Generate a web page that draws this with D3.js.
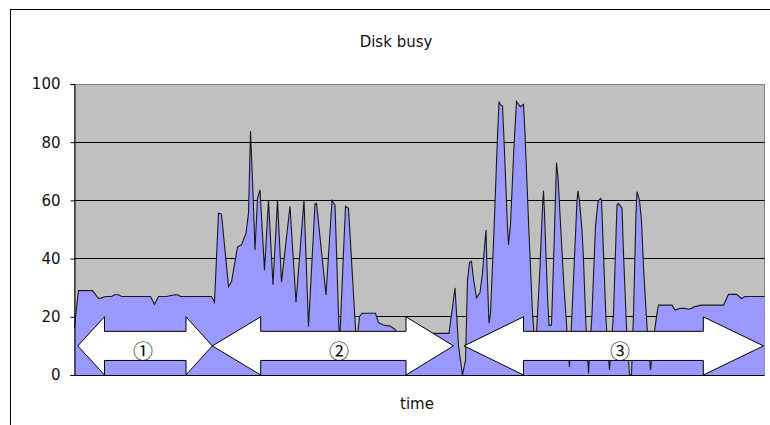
<!DOCTYPE html>
<html>
<head>
<meta charset="utf-8">
<script src="https://cdn.jsdelivr.net/npm/d3@7"></script>
<style>
  html, body { margin: 0; padding: 0; background: #fff; }
  svg { display: block; }
  text { font-family: "DejaVu Sans", sans-serif; fill: #111; }
</style>
</head>
<body>
<script>
// Sample times (arbitrary units from start of the run) and disk busy %
const sampleTime = [
  0, 1, 4, 18, 24, 27, 31, 37, 40, 44, 47, 76, 80, 84, 92, 100, 104, 106, 137, 140,
  144, 147, 149.5, 154, 157, 163, 167, 171.5, 174, 176, 178, 180.5, 183, 185.5, 190, 194, 198.5, 203, 207, 215.5,
  221.5, 229.5, 234, 240.5, 242, 251.5, 257.5, 260.5, 265, 271, 274, 282, 285, 287.5, 301, 304, 309, 315.5, 320, 323.5,
  374.5, 377.5, 380.5, 384, 388, 391, 393, 395, 397, 399, 402, 405.5, 408, 410.5, 411.5, 412.5, 414.5, 416, 419.5, 423,
  424.5, 426, 428, 429.5, 433, 434, 436, 439.5, 442, 444.5, 446, 449, 450.5, 454.5, 458, 461, 465.5, 468, 469, 470,
  473, 474.5, 477, 479.5, 482, 483.5, 486, 489.5, 492.5, 495, 497.5, 502.5, 503.5, 505, 507.5, 509, 511.5, 514, 517.5, 521,
  523.5, 526, 527, 529, 531.5, 535, 539, 542.5, 544, 547.5, 549, 552, 555, 557, 559, 561.5, 562.5, 565, 567, 569,
  572.5, 576, 580, 582.5, 584, 597.5, 600.5, 605.5, 610.5, 614, 617, 620.5, 627, 649, 654, 662, 667, 670.5, 690
];
const diskBusy = [
  16, 20, 29, 29, 26.3, 26.5, 27, 27, 27.6, 27.6, 27, 27, 24.3, 27, 27, 27.6, 27.5, 27, 27, 25,
  55.6, 55.3, 46.4, 30.4, 32, 44, 44.7, 48.7, 55.6, 83.8, 67, 43, 60.7, 63.6, 36, 60, 31, 60, 32, 58,
  25, 60, 16.6, 58.8, 59, 27.5, 60, 58.4, 10, 58, 57.3, 10, 20, 21.2, 21.2, 18, 17.2, 16.8, 15.8, 14.3,
  14.3, 22, 30, 10, 0, 5, 32.6, 38.6, 39, 33, 26.5, 28.3, 35, 46, 49.8, 37, 17.8, 21.2, 49.8, 82,
  94, 92.8, 92.5, 80.8, 51, 44.7, 52, 78.5, 94, 92.8, 92.2, 93, 83, 48.7, 21.2, 8, 37, 57.8, 63.3, 55.6,
  27, 17, 17.2, 44, 73, 68, 52, 30, 15, 2.8, 21, 60, 63.3, 59.6, 49.8, 39.5, 16.6, 0.5, 21, 51,
  59.6, 60.7, 60.2, 41.8, 19, 1.7, 21, 58.4, 59, 57.3, 41.8, 16.6, 0, 0, 21, 55.6, 63, 60, 53, 37,
  16.6, 1.7, 15, 21.2, 24, 24, 22.3, 22.9, 22.9, 22.6, 22.9, 23.5, 24, 24, 27.7, 27.7, 26.3, 27, 27
];

const timeRange = [0, 690];
const yTicks = [0, 20, 40, 60, 80, 100];

// Phases of the run, drawn as double-headed arrows along the bottom
const phaseNames = ["\u2460", "\u2461", "\u2462"];
const phaseTipStart = [3.3, 137.8, 389.5];
const phaseHeadStart = [30, 186.2, 449];
const phaseHeadEnd = [111.5, 331.5, 628.8];
const phaseTipEnd = [137.8, 379, 689];
const phaseLabelTime = [68.5, 264.5, 545.5];
const arrowHeadSpan = [0, 20];
const arrowShaftSpan = [5, 15];
const arrowMid = 10;
const phaseLabelLevel = 8.3;

const chartTitle = "Disk busy";
const xAxisTitle = "time";

const W = 770, H = 425;
const plot = { left: 74.5, right: 764.5, top: 84, bottom: 375 };

const svg = d3.select("body").append("svg")
  .attr("width", W).attr("height", H);

// outer chart frame
svg.append("rect")
  .attr("x", 10.5).attr("y", 9.5)
  .attr("width", 900).attr("height", 600)
  .attr("fill", "#fff").attr("stroke", "#000").attr("stroke-width", 1);

const x = d3.scaleLinear().domain(timeRange).range([plot.left, plot.right]);
const y = d3.scaleLinear().domain([0, 100]).range([plot.bottom, plot.top]);

// plot background
svg.append("rect")
  .attr("x", plot.left).attr("y", plot.top + 0.5)
  .attr("width", plot.right - plot.left).attr("height", plot.bottom - plot.top - 0.5)
  .attr("fill", "#c0c0c0").attr("stroke", "#808080").attr("stroke-width", 1);

// horizontal gridlines
svg.append("g").selectAll("line")
  .data(yTicks.filter(d => d > 0 && d < 100))
  .join("line")
  .attr("x1", plot.left).attr("x2", plot.right)
  .attr("y1", d => Math.floor(y(d)) + 0.5).attr("y2", d => Math.floor(y(d)) + 0.5)
  .attr("stroke", "#000").attr("stroke-width", 1);

const series = sampleTime.map((t, i) => ({ t, v: diskBusy[i] }));

const area = d3.area()
  .x(d => x(d.t))
  .y0(y(0))
  .y1(d => y(d.v));

svg.append("path")
  .datum(series)
  .attr("d", area)
  .attr("fill", "#9999ff");

const line = d3.line()
  .x(d => x(d.t))
  .y(d => y(d.v));

svg.append("path")
  .datum(series)
  .attr("d", line)
  .attr("fill", "none")
  .attr("stroke", "#1a1a1a")
  .attr("stroke-width", 1.1)
  .attr("stroke-linejoin", "miter");

// phase arrows
const arrowPts = i => [
  [phaseTipStart[i], arrowMid],
  [phaseHeadStart[i], arrowHeadSpan[1]],
  [phaseHeadStart[i], arrowShaftSpan[1]],
  [phaseHeadEnd[i], arrowShaftSpan[1]],
  [phaseHeadEnd[i], arrowHeadSpan[1]],
  [phaseTipEnd[i], arrowMid],
  [phaseHeadEnd[i], arrowHeadSpan[0]],
  [phaseHeadEnd[i], arrowShaftSpan[0]],
  [phaseHeadStart[i], arrowShaftSpan[0]],
  [phaseHeadStart[i], arrowHeadSpan[0]]
].map(([t, v]) => [x(t), y(v)]);

svg.append("g").selectAll("path")
  .data(phaseNames.map((n, i) => i))
  .join("path")
  .attr("d", i => "M" + arrowPts(i).map(p => p.join(",")).join("L") + "Z")
  .attr("fill", "#fff")
  .attr("stroke", "#000")
  .attr("stroke-width", 1)
  .attr("stroke-linejoin", "miter");

svg.append("g").selectAll("text")
  .data(phaseNames)
  .join("text")
  .attr("x", (d, i) => x(phaseLabelTime[i]))
  .attr("y", y(phaseLabelLevel))
  .attr("text-anchor", "middle")
  .attr("dominant-baseline", "central")
  .style("font-family", "'Noto Sans CJK JP', sans-serif")
  .style("font-size", "20px")
  .style("font-weight", "400")
  .attr("fill", "#000")
  .text(d => d);

// y axis
const yAxis = d3.axisLeft(y)
  .tickValues(yTicks)
  .tickSize(4)
  .tickPadding(10)
  .tickFormat(d3.format("d"));

const gy = svg.append("g")
  .attr("transform", `translate(${plot.left},0)`)
  .call(yAxis);
gy.select(".domain").attr("stroke", "#000");
gy.selectAll(".tick line").attr("stroke", "#000");
gy.selectAll(".tick text")
  .style("font-family", "'DejaVu Sans', sans-serif")
  .style("font-size", "15px")
  .attr("fill", "#111");

// x axis baseline
svg.append("line")
  .attr("x1", plot.left).attr("x2", plot.right)
  .attr("y1", plot.bottom + 0.5).attr("y2", plot.bottom + 0.5)
  .attr("stroke", "#000");

svg.append("text")
  .attr("x", 396).attr("y", 47)
  .attr("text-anchor", "middle")
  .style("font-size", "15px")
  .text(chartTitle);

svg.append("text")
  .attr("x", 417).attr("y", 409)
  .attr("text-anchor", "middle")
  .style("font-size", "15px")
  .text(xAxisTitle);
</script>
</body>
</html>
